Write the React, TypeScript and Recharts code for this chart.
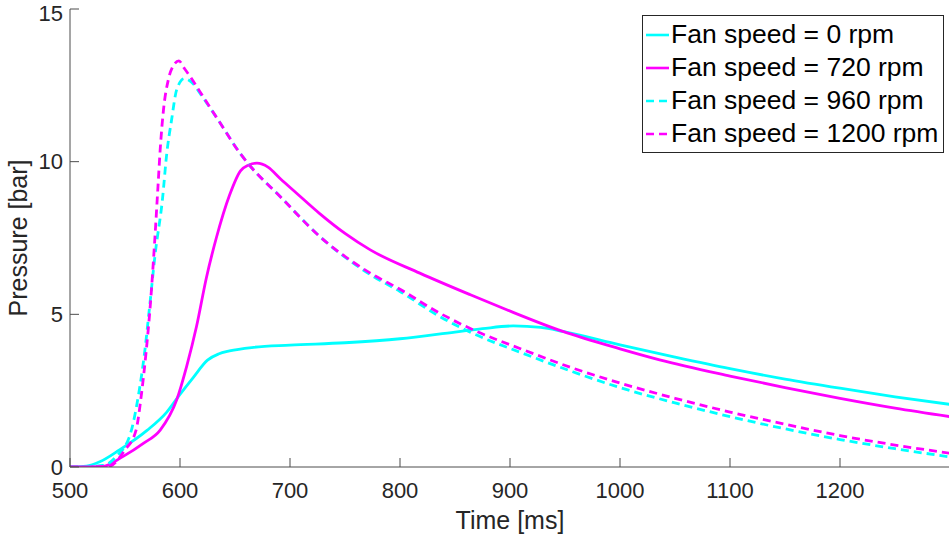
import React from 'react'
import { Legend, Line, LineChart, XAxis, YAxis } from 'recharts'

const FONT = '"Liberation Sans", Arial, Helvetica, sans-serif'
const INK = '#262626'

const timeTicks = [500, 600, 700, 800, 900, 1000, 1100, 1200]
const pressureTicks = [0, 5, 10, 15]

// fan speed 0 rpm
const time0 = [500, 515, 527, 545, 570, 588, 600, 612, 625, 635, 645, 667, 700, 750, 800, 850, 875, 903, 928, 948, 1000, 1050, 1100, 1150, 1200, 1250, 1300]
const press0 = [0, 0.03, 0.17, 0.56, 1.2, 1.8, 2.38, 2.93, 3.5, 3.7, 3.8, 3.92, 3.99, 4.07, 4.2, 4.42, 4.53, 4.62, 4.57, 4.44, 4.0, 3.6, 3.22, 2.88, 2.58, 2.3, 2.05]

// fan speed 720 rpm
const time720 = [500, 530, 548, 567, 582, 597, 606, 615, 624, 633, 645, 655, 662, 670, 680, 691, 705, 727, 750, 773, 818, 864, 897, 948, 1000, 1036, 1100, 1150, 1200, 1250, 1300]
const press720 = [0, 0.02, 0.34, 0.78, 1.21, 2.2, 3.29, 4.6, 6.2, 7.5, 8.9, 9.7, 9.88, 9.95, 9.82, 9.45, 9.0, 8.3, 7.65, 7.11, 6.35, 5.64, 5.15, 4.44, 3.87, 3.51, 2.98, 2.6, 2.25, 1.93, 1.65]

// fan speed 960 rpm
const time960 = [500, 530, 542, 555, 562, 568, 572.5, 577.5, 584, 588, 592.4, 597, 604, 612, 618, 635, 654.5, 664, 691, 727, 773, 800, 836, 866, 912, 957, 1000, 1050, 1100, 1150, 1200, 1250, 1300]
const press960 = [0, 0.05, 0.34, 1.1, 2.3, 3.8, 5.3, 7.0, 8.75, 10.28, 11.38, 12.36, 12.72, 12.55, 12.25, 11.35, 10.28, 9.85, 8.86, 7.55, 6.3, 5.75, 4.93, 4.38, 3.72, 3.12, 2.6, 2.1, 1.65, 1.25, 0.9, 0.6, 0.33]

// fan speed 1200 rpm
const time1200 = [500, 535, 550, 560, 565, 569, 573, 577, 580, 582, 585, 589.5, 594, 599, 604, 609, 618, 635, 654.5, 664, 691, 727, 773, 800, 836, 866.7, 912, 957, 1000, 1050, 1100, 1150, 1200, 1250, 1300]
const press1200 = [0, 0.02, 0.56, 1.2, 2.4, 3.7, 5.3, 7.4, 9.2, 10.4, 11.7, 12.7, 13.15, 13.3, 13.05, 12.8, 12.3, 11.35, 10.28, 9.85, 8.86, 7.55, 6.35, 5.82, 5.04, 4.49, 3.84, 3.24, 2.75, 2.25, 1.8, 1.4, 1.03, 0.72, 0.45]

const seriesNames = ['Fan speed = 0 rpm', 'Fan speed = 720 rpm', 'Fan speed = 960 rpm', 'Fan speed = 1200 rpm']

const toRows = (t: number[], p: number[]) => t.map((x, i) => ({ t: x, p: p[i] }))

const series = [
  { name: seriesNames[0], data: toRows(time0, press0), color: '#00FFFF', dash: undefined },
  { name: seriesNames[1], data: toRows(time720, press720), color: '#FF00FF', dash: undefined },
  { name: seriesNames[2], data: toRows(time960, press960), color: '#00FFFF', dash: '8 5' },
  { name: seriesNames[3], data: toRows(time1200, press1200), color: '#FF00FF', dash: '8 5' },
]

const LegendBox = () => (
  <div style={{ border: `1px solid ${INK}`, background: '#fff', width: 300, padding: '2px 0', fontFamily: FONT, fontSize: 26.5, color: '#000' }}>
    {series.map(s => (
      <div key={s.name} style={{ display: 'flex', alignItems: 'center', height: 33 }}>
        <svg width={26} height={10} style={{ flex: 'none' }}>
          <line x1={3} x2={26} y1={5} y2={5} stroke={s.color} strokeWidth={2.6} strokeDasharray={s.dash} />
        </svg>
        <span style={{ marginLeft: 2, lineHeight: 1, whiteSpace: 'nowrap' }}>{s.name}</span>
      </div>
    ))}
  </div>
)

const TimeLabel = (props: any) => {
  const vb = props.viewBox
  return (
    <text x={vb.x + vb.width / 2} y={vb.y + 62} textAnchor="middle" fontSize={25} fill={INK} fontFamily={FONT}>
      Time [ms]
    </text>
  )
}

const PressureLabel = (props: any) => {
  const vb = props.viewBox
  const x = vb.x + 27
  const y = vb.y + vb.height / 2
  return (
    <text x={x} y={y} transform={`rotate(-90, ${x}, ${y})`} textAnchor="middle" fontSize={25} fill={INK} fontFamily={FONT}>
      Pressure [bar]
    </text>
  )
}

const axisStroke = '#4d4d4d'
const tickFont = { fontSize: 22, fill: INK, fontFamily: FONT }

export default function App() {
  return (
    <div style={{ position: 'absolute', left: 0, top: 0, width: 949, height: 540, overflow: 'hidden', background: '#fff' }}>
      <LineChart width={952} height={540} margin={{ top: 9, right: 2, left: 0, bottom: 0 }} style={{ fontFamily: FONT }}>
        <XAxis
          xAxisId="0"
          type="number"
          dataKey="t"
          domain={[500, 1300]}
          ticks={timeTicks}
          allowDataOverflow
          height={73}
          stroke={axisStroke}
          tickSize={-9}
          tickMargin={24}
          tick={tickFont}
          label={<TimeLabel />}
        />
        <XAxis
          xAxisId="top"
          orientation="top"
          type="number"
          domain={[500, 1300]}
          ticks={timeTicks}
          allowDataOverflow
          height={0}
          stroke={axisStroke}
          tickSize={-9}
          tick={() => null}
        />
        <YAxis
          yAxisId="0"
          type="number"
          domain={[0, 15]}
          ticks={pressureTicks}
          allowDataOverflow
          width={70}
          stroke={axisStroke}
          tickSize={-9}
          tickMargin={16}
          tick={tickFont}
          label={<PressureLabel />}
        />
        <YAxis
          yAxisId="right"
          orientation="right"
          type="number"
          domain={[0, 15]}
          ticks={pressureTicks}
          allowDataOverflow
          width={0}
          stroke={axisStroke}
          tickSize={-9}
          tick={() => null}
        />
        {series.map(s => (
          <Line
            key={s.name}
            xAxisId="0"
            yAxisId="0"
            data={s.data}
            dataKey="p"
            name={s.name}
            type="monotone"
            stroke={s.color}
            strokeWidth={2.8}
            strokeDasharray={s.dash}
            dot={false}
            activeDot={false}
            isAnimationActive={false}
          />
        ))}
        <Legend
          layout="horizontal"
          align="center"
          verticalAlign="middle"
          content={<LegendBox />}
          wrapperStyle={{ top: 15, left: 642, width: 302, right: 'auto', bottom: 'auto' }}
        />
      </LineChart>
    </div>
  )
}
